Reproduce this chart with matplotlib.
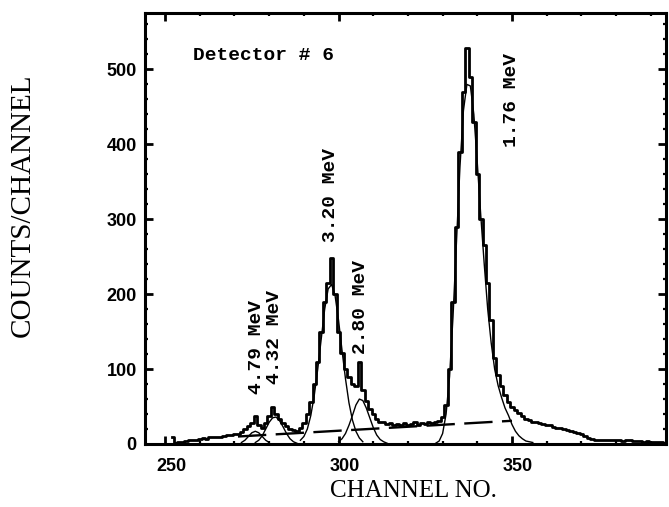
import matplotlib
matplotlib.use("Agg")
import matplotlib.pyplot as plt
from matplotlib.ticker import MultipleLocator
from matplotlib.transforms import ScaledTranslation

# ---------------- data ----------------
channels = list(range(252, 395))
counts = [
    9, 2, 3, 3, 4, 5, 5, 6, 7, 8,            # 252-261
    7, 9, 9, 10, 10, 11, 12, 12, 13, 14,     # 262-271
    16, 20, 24, 28, 38, 26, 22, 28, 38, 50,  # 272-281
    40, 33, 28, 24, 20, 19, 18, 22, 28, 40,  # 282-291
    56, 80, 110, 150, 190, 215, 248, 200, 150, 122,  # 292-301
    100, 90, 80, 78, 110, 72, 58, 47, 40, 33,        # 302-311
    30, 29, 27, 28, 26, 27, 25, 28, 26, 27,          # 312-321
    29, 26, 28, 27, 29, 28, 30, 31, 36, 52,          # 322-331
    100, 190, 290, 390, 470, 528, 490, 430, 360, 300,  # 332-341
    265, 215, 165, 115, 92, 78, 66, 56, 50, 45,        # 342-351
    41, 37, 34, 32, 30, 29, 28, 27, 26, 25,            # 352-361
    23, 22, 21, 20, 19, 17, 16, 15, 13, 11,            # 362-371
    8, 7, 6, 6, 5, 6, 5, 5, 6, 5,                      # 372-381
    4, 5, 5, 4, 4, 4, 3, 4, 3, 3,                      # 382-391
    3, 3, 2,                                           # 392-394
]

fit_479_ch = list(range(272, 281))
fit_479 = [2, 5, 10, 15, 17, 15, 10, 5, 2]

fit_432_ch = list(range(276, 289))
fit_432 = [2, 5, 11, 20, 29, 35, 36, 31, 23, 14, 7, 3, 1]

fit_320_ch = list(range(289, 308))
fit_320 = [5, 10, 20, 38, 65, 100, 140, 180, 207, 213, 198, 165, 125, 87, 55, 32, 17, 8, 3]

fit_280_ch = list(range(300, 315))
fit_280 = [3, 7, 14, 25, 38, 52, 60, 58, 48, 35, 22, 12, 6, 3, 1]

fit_176_ch = list(range(328, 357))
fit_176 = [1, 4, 14, 40, 90, 170, 270, 370, 445, 480, 478, 440, 375, 305, 240,
           180, 135, 100, 78, 62, 48, 38, 26, 17, 11, 7, 4, 3, 2]

background_ch = [271, 350]
background = [10, 31]

peak_labels = ["4.79 MeV", "4.32 MeV", "3.20 MeV", "2.80 MeV", "1.76 MeV"]
peak_label_ch = [276.3, 281.5, 297.7, 306.2, 349.9]
peak_label_y = [67, 80, 270, 120, 397]

x_ticks = [250, 300, 350]
y_ticks = [0, 100, 200, 300, 400, 500]

# ---------------- figure ----------------
fig = plt.figure(figsize=(6.69, 5.07), dpi=100)
ax = fig.add_axes([145 / 669, 1 - 444 / 507, (666 - 145) / 669, (444 - 12.5) / 507])

ax.plot(channels, counts, drawstyle="steps-mid", color="black", lw=2.0)
for xs, ys in [(fit_479_ch, fit_479), (fit_432_ch, fit_432), (fit_320_ch, fit_320),
               (fit_280_ch, fit_280), (fit_176_ch, fit_176)]:
    ax.plot(xs, ys, color="black", lw=1.0)
ax.plot(background_ch, background, color="black", lw=1.7, linestyle=(0, (12, 4)))

ax.set_xlim(244.2, 394.4)
ax.set_ylim(0, 576)

ax.set_xticks(x_ticks)
ax.set_yticks(y_ticks)
ax.xaxis.set_minor_locator(MultipleLocator(10))
ax.yaxis.set_minor_locator(MultipleLocator(20))
ax.tick_params(which="both", direction="in", top=True, right=True)
ax.tick_params(which="major", length=6, width=2)
ax.tick_params(which="minor", length=2.5, width=1.6)
ax.tick_params(axis="x", which="major", pad=10)
ax.tick_params(axis="y", which="major", pad=6)
shift = ScaledTranslation(6 / 100, 0, fig.dpi_scale_trans)
for lab in ax.get_xticklabels():
    lab.set_transform(lab.get_transform() + shift)
for lab in ax.get_xticklabels() + ax.get_yticklabels():
    lab.set_fontfamily("Liberation Sans")
    lab.set_fontweight("bold")
    lab.set_fontsize(13)

for sp in ax.spines.values():
    sp.set_linewidth(2.2)

fig.text(413 / 669, 1 - 491 / 507, "CHANNEL NO.", fontfamily="Liberation Serif",
         fontsize=18, ha="center", va="center")
fig.text(23 / 669, 1 - 205 / 507, "COUNTS/CHANNEL", fontfamily="Liberation Serif",
         fontsize=21, ha="center", va="center", rotation=90)

ax.text(258.1, 519, "Detector # 6", fontfamily="Liberation Mono", fontweight="bold",
        fontsize=14, ha="left", va="center")
for lab, cx, cy in zip(peak_labels, peak_label_ch, peak_label_y):
    ax.text(cx, cy, lab, rotation=90, ha="center", va="bottom",
            fontfamily="Liberation Mono", fontweight="bold", fontsize=14)

fig.savefig("out.png", dpi=100)
